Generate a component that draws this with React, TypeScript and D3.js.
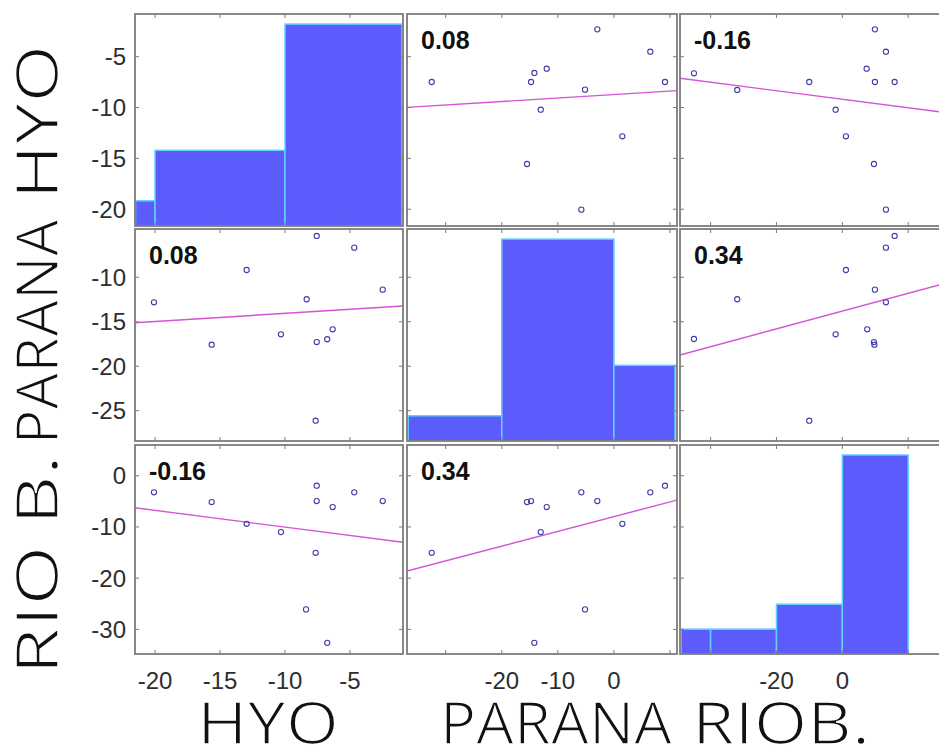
import React from "react";
import * as d3 from "d3";

// ---------- data ----------
const rowNames = ["HYO", "PARANA", "RIO B."];
const colNames = ["HYO", "PARANA", "RIOB."];

// axis domains (x per column, y per row)
const xDomains: [number, number][] = [[-21.54, -0.92], [-36.9, 11.25], [-49.3, 32.7]];
const yDomains: [number, number][] = [[-21.65, -0.8], [-28.41, -4.57], [-34.8, 6.0]];

// ticks
const xTicks = [[-20, -15, -10, -5], [-30, -20, -10, 0, 10], [-40, -20, 0, 20]];
const xTickLabels = [[-20, -15, -10, -5], [-20, -10, 0], [-20, 0]];
const yTicks = [[-5, -10, -15, -20], [-10, -15, -20, -25], [0, -10, -20, -30]];

// histograms (diagonal)
const histEdges = [[-21.5, -20, -10, -1.0], [-36.7, -20, 0, 10.9], [-49, -40, -20, 0, 20]];
const histCounts = [[1, 3, 8], [1, 8, 3], [1, 1, 2, 8]];
const histMax = 8.4;

// scatter panels
const r1c2X = [-32.49, -14.78, -14.19, -11.98, -2.96, -5.15, 6.49, 9.11, -13.05, 1.5, -15.5, -5.81];
const r1c2Y = [-7.49, -7.49, -6.6, -6.18, -2.31, -8.24, -4.51, -7.49, -10.21, -12.83, -15.55, -20.04];
const r1c3X = [-45.06, -31.92, -10.05, -2.03, 1.09, 7.38, 9.9, 9.9, 9.6, 13.24, 15.88, 13.24];
const r1c3Y = [-6.63, -8.27, -7.49, -10.21, -12.83, -6.18, -2.31, -7.49, -15.55, -4.51, -7.49, -20.04];
const r2c1X = [-20.08, -12.95, -7.56, -4.67, -2.48, -8.33, -15.64, -10.31, -7.56, -6.75, -6.33, -7.64];
const r2c1Y = [-12.81, -9.18, -5.35, -6.67, -11.39, -12.47, -17.58, -16.41, -17.28, -16.97, -15.85, -26.13];
const r2c3X = [-45.06, -31.92, -10.05, -2.03, 1.09, 7.56, 9.6, 9.75, 9.9, 13.24, 13.24, 15.88];
const r2c3Y = [-16.94, -12.47, -26.13, -16.41, -9.18, -15.85, -17.28, -17.58, -11.39, -6.67, -12.81, -5.35];
const r3c1X = [-20.08, -15.64, -12.95, -10.31, -7.56, -7.56, -6.33, -4.67, -2.48, -7.64, -8.38, -6.75];
const r3c1Y = [-3.24, -5.14, -9.38, -11.0, -1.95, -4.94, -6.11, -3.24, -4.94, -15.04, -26.09, -32.62];
const r3c2X = [-32.49, -15.5, -14.78, -11.98, -13.05, -5.81, -2.96, 1.5, 6.49, 9.11, -5.15, -14.19];
const r3c2Y = [-15.04, -5.14, -4.94, -6.11, -11.0, -3.24, -4.94, -9.38, -3.24, -1.95, -26.09, -32.62];

// fitted lines [x0, y0, x1, y1]
const r1c2Fit = [-36.9, -9.98, 11.25, -8.34];
const r1c3Fit = [-49.3, -7.12, 32.7, -10.55];
const r2c1Fit = [-21.54, -15.11, -0.92, -13.23];
const r2c3Fit = [-49.3, -18.74, 32.7, -10.53];
const r3c1Fit = [-21.54, -6.25, -0.92, -13.0];
const r3c2Fit = [-36.9, -18.61, 11.25, -4.75];

const corrLabels = [["", "0.08", "-0.16"], ["0.08", "", "0.34"], ["-0.16", "0.34", ""]];

const scatter: Record<string, { x: number[]; y: number[]; fit: number[] }> = {
  "0-1": { x: r1c2X, y: r1c2Y, fit: r1c2Fit },
  "0-2": { x: r1c3X, y: r1c3Y, fit: r1c3Fit },
  "1-0": { x: r2c1X, y: r2c1Y, fit: r2c1Fit },
  "1-2": { x: r2c3X, y: r2c3Y, fit: r2c3Fit },
  "2-0": { x: r3c1X, y: r3c1Y, fit: r3c1Fit },
  "2-1": { x: r3c2X, y: r3c2Y, fit: r3c2Fit },
};

// ---------- layout ----------
const W = 939;
const H = 752;
const colPx: [number, number][] = [[135, 403], [407, 677], [680, 950]];
const rowPx: [number, number][] = [[14, 226], [229, 441], [445, 654]];

const HIST_FILL = "#5c5cfc";
const HIST_EDGE = "#5fd3fc";
const MARK = "#3f3fa8";
const FIT = "#d455d4";
const AXIS = "#7c7c7c";
const TXT = "#2e2e2e";
const FONT = "'Liberation Sans', Arial, sans-serif";
const TITLE_FONT = "'Open Sans', 'Noto Sans', sans-serif";

export default function App() {
  const xs = xDomains.map((d, i) => d3.scaleLinear().domain(d).range(colPx[i]));
  const ys = yDomains.map((d, i) => d3.scaleLinear().domain(d).range([rowPx[i][1], rowPx[i][0]]));
  const hs = rowPx.map((r) => d3.scaleLinear().domain([0, histMax]).range([r[1], r[0]]));
  const line = d3.line<[number, number]>();

  const panels: React.ReactNode[] = [];
  for (let r = 0; r < 3; r++) {
    for (let c = 0; c < 3; c++) {
      const x = xs[c];
      const y = ys[r];
      const [x0, x1] = colPx[c];
      const [y0, y1] = rowPx[r];
      const key = `${r}-${c}`;
      const content: React.ReactNode[] = [];
      if (r === c) {
        const edges = histEdges[r];
        const counts = histCounts[r];
        const h = hs[r];
        counts.forEach((n, i) => {
          content.push(
            <rect
              key={`b${i}`}
              x={x(edges[i])}
              y={h(n)}
              width={x(edges[i + 1]) - x(edges[i])}
              height={h(0) - h(n)}
              fill={HIST_FILL}
              stroke={HIST_EDGE}
              strokeWidth={1.5}
            />
          );
        });
      } else {
        const s = scatter[key];
        const f = s.fit;
        content.push(
          <path
            key="fit"
            d={line([[x(f[0]), y(f[1])], [x(f[2]), y(f[3])]]) || ""}
            stroke={FIT}
            strokeWidth={1.4}
            fill="none"
          />
        );
        s.x.forEach((v, i) => {
          content.push(
            <circle key={`p${i}`} cx={x(v)} cy={y(s.y[i])} r={2.6} fill="none" stroke={MARK} strokeWidth={1.1} />
          );
        });
        content.push(
          <text key="corr" x={x0 + 14} y={y0 + 35} fontFamily={FONT} fontWeight="bold" fontSize={25} fill="#111">
            {corrLabels[r][c]}
          </text>
        );
      }
      // tick marks
      const tl = 4;
      const ticks: React.ReactNode[] = [];
      xTicks[c].forEach((t, i) => {
        const px = x(t);
        ticks.push(<line key={`xt${i}`} x1={px} x2={px} y1={y1} y2={y1 - tl} stroke={AXIS} strokeWidth={1} />);
        ticks.push(<line key={`xtt${i}`} x1={px} x2={px} y1={y0} y2={y0 + tl} stroke={AXIS} strokeWidth={1} />);
      });
      yTicks[r].forEach((t, i) => {
        const py = y(t);
        ticks.push(<line key={`yt${i}`} x1={x0} x2={x0 + tl} y1={py} y2={py} stroke={AXIS} strokeWidth={1} />);
        ticks.push(<line key={`ytt${i}`} x1={x1} x2={x1 - tl} y1={py} y2={py} stroke={AXIS} strokeWidth={1} />);
      });
      panels.push(
        <g key={key}>
          <clipPath id={`clip${key}`}>
            <rect x={x0} y={y0} width={x1 - x0} height={y1 - y0} />
          </clipPath>
          <rect x={x0} y={y0} width={x1 - x0} height={y1 - y0} fill="#fff" />
          <g clipPath={`url(#clip${key})`}>{content}</g>
          {ticks}
          <rect x={x0} y={y0} width={x1 - x0} height={y1 - y0} fill="none" stroke={AXIS} strokeWidth={1.8} />
        </g>
      );
    }
  }

  // y tick labels (left column)
  const yLabels: React.ReactNode[] = [];
  yTicks.forEach((tks, r) =>
    tks.forEach((t, i) =>
      yLabels.push(
        <text key={`yl${r}-${i}`} x={126} y={ys[r](t)} dy="0.35em" textAnchor="end" fontFamily={FONT} fontSize={24} fill={TXT}>
          {t}
        </text>
      )
    )
  );
  const xLabels: React.ReactNode[] = [];
  xTickLabels.forEach((tks, c) =>
    tks.forEach((t, i) =>
      xLabels.push(
        <text key={`xl${c}-${i}`} x={xs[c](t)} y={689} textAnchor="middle" fontFamily={FONT} fontSize={24} fill={TXT}>
          {t}
        </text>
      )
    )
  );

  const colTitleX = [268, 556, 781];
  const colTitleW = [142, 232, 178];
  const rowTitleY = [122, 332, 565];
  const rowTitleW = [155, 225, 220];

  return (
    <div style={{ position: "absolute", left: 0, top: 0 }}>
      <svg width={W} height={H} style={{ display: "block" }}>
        <rect width={W} height={H} fill="#fff" />
        {panels}
        {yLabels}
        {xLabels}
        {colNames.map((n, i) => (
          <text
            key={`ct${i}`}
            x={colTitleX[i] - colTitleW[i] / 2}
            y={744}
            fontFamily={TITLE_FONT}
            fontSize={58}
            fill="#111"
            stroke="#fff"
            strokeWidth={1.6}
            textLength={colTitleW[i]}
            lengthAdjust="spacingAndGlyphs"
          >
            {n}
          </text>
        ))}
        {rowNames.map((n, i) => (
          <text
            key={`rt${i}`}
            transform={`translate(58, ${rowTitleY[i] + rowTitleW[i] / 2}) rotate(-90)`}
            fontFamily={TITLE_FONT}
            fontSize={58}
            fill="#111"
            stroke="#fff"
            strokeWidth={1.6}
            textLength={rowTitleW[i]}
            lengthAdjust="spacingAndGlyphs"
          >
            {n}
          </text>
        ))}
      </svg>
    </div>
  );
}
